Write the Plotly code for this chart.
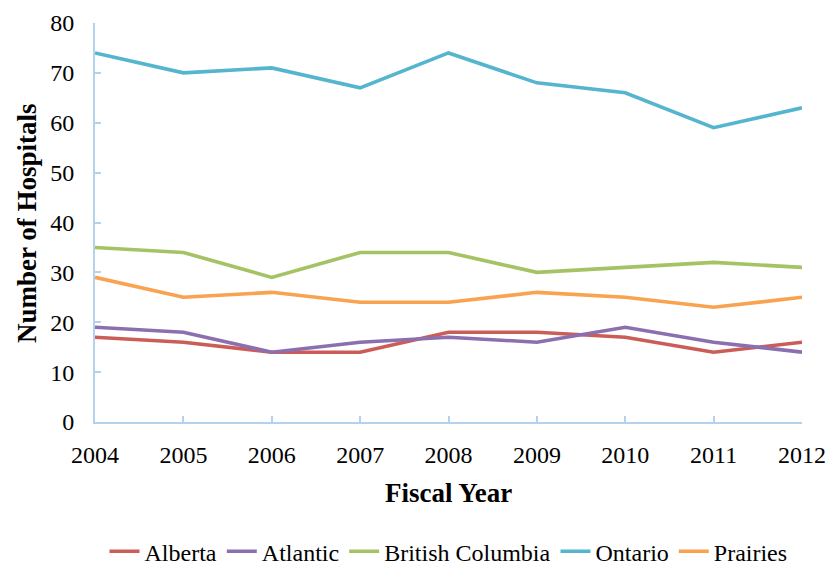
import plotly.graph_objects as go

years = [2004, 2005, 2006, 2007, 2008, 2009, 2010, 2011, 2012]
alberta = [17, 16, 14, 14, 18, 18, 17, 14, 16]
atlantic = [19, 18, 14, 16, 17, 16, 19, 16, 14]
british_columbia = [35, 34, 29, 34, 34, 30, 31, 32, 31]
ontario = [74, 70, 71, 67, 74, 68, 66, 59, 63]
prairies = [29, 25, 26, 24, 24, 26, 25, 23, 25]

series = [
    ("Alberta", alberta, "#cb5d58"),
    ("Atlantic", atlantic, "#8b6fae"),
    ("British Columbia", british_columbia, "#a5c365"),
    ("Ontario", ontario, "#55b5cf"),
    ("Prairies", prairies, "#f9a24f"),
]

FONT = "Liberation Serif"
AXIS_COLOR = "#b5d2ec"
TICK_SIZE = 24
TITLE_SIZE = 27

fig = go.Figure()
for name, vals, color in series:
    fig.add_trace(go.Scatter(
        x=years, y=vals, name=name, mode="lines",
        line=dict(color=color, width=3.6),
    ))

fig.update_layout(
    width=832, height=567,
    margin=dict(l=95, r=30, t=23, b=145, autoexpand=False),
    paper_bgcolor="white", plot_bgcolor="white",
    font=dict(family=FONT, size=TICK_SIZE, color="black"),
    showlegend=True,
    legend=dict(
        orientation="h", x=0.5, xanchor="center",
        yref="container", y=0.027, yanchor="middle",
        font=dict(family=FONT, size=TICK_SIZE), itemwidth=30, tracegroupgap=0,
    ),
    xaxis=dict(
        range=[2004, 2012], tickmode="array", tickvals=years,
        ticktext=[str(y) for y in years],
        showgrid=False, zeroline=False, automargin=False,
        showline=True, linecolor=AXIS_COLOR, linewidth=2,
        ticks="inside", ticklen=6, tickcolor=AXIS_COLOR, tickwidth=2,
        tickfont=dict(family=FONT, size=TICK_SIZE),
        ticklabelstandoff=10,
    ),
    yaxis=dict(
        range=[0, 80], tickmode="array", tickvals=list(range(0, 81, 10)),
        showgrid=False, zeroline=False, automargin=False,
        showline=True, linecolor=AXIS_COLOR, linewidth=2,
        ticks="inside", ticklen=6, tickcolor=AXIS_COLOR, tickwidth=2,
        tickfont=dict(family=FONT, size=TICK_SIZE),
        ticklabelstandoff=14,
    ),
    annotations=[
        dict(text="<b>Fiscal Year</b>", xref="paper", yref="paper",
             x=0.5, y=(567 - 145 - 493) / (567 - 145 - 23), xanchor="center", yanchor="middle",
             showarrow=False, font=dict(family=FONT, size=TITLE_SIZE)),
        dict(text="<b>Number of Hospitals</b>", xref="paper", yref="paper",
             x=(27 - 95) / (832 - 95 - 30), y=(567 - 145 - 223) / (567 - 145 - 23),
             xanchor="center", yanchor="middle", textangle=-90,
             showarrow=False, font=dict(family=FONT, size=TITLE_SIZE)),
    ],
)

fig.write_html("out.html")
